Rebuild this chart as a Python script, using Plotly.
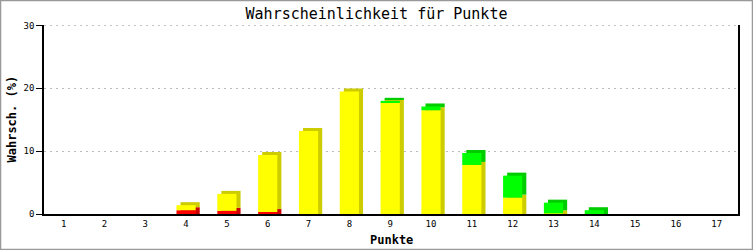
import plotly.graph_objects as go

categories = list(range(1, 18))
red = [0, 0, 0, 0.6, 0.5, 0.3, 0, 0, 0, 0, 0, 0, 0, 0, 0, 0, 0]
yellow = [0, 0, 0, 0.8, 2.7, 9.1, 13.2, 19.5, 17.8, 16.5, 7.8, 2.6, 0.1, 0, 0, 0, 0]
green = [0, 0, 0, 0, 0, 0, 0, 0, 0.2, 0.6, 1.9, 3.5, 1.7, 0.6, 0, 0, 0]
tick_labels = [str(c) for c in categories]
y_ticks = [0, 10, 20, 30]

series = [
    ("red", red, "#ff0000", "#cc0000"),
    ("yellow", yellow, "#ffff00", "#cccc00"),
    ("green", green, "#00ff00", "#00cc00"),
]

W, H = 753, 250
L, R, T, B = 44, 15, 25, 36
PW, PH = W - L - R, H - T - B
bar_w = 0.47
dx = 0.10   # depth offset in category units (~4px)
dy = 0.48   # depth offset in value units (~3px)
grid_dash = "2px,4px"

fig = go.Figure()

bases = [0.0] * len(categories)
segs = []
for name, vals, col, dark in series:
    segs.append((name, vals, list(bases), col, dark))
    bases = [b + v for b, v in zip(bases, vals)]

# shadow (3D depth) traces
for name, vals, base, col, dark in segs:
    sh_base = [(b + dy if b > 0 else 0) for b in base]
    sh_val = [(v + (dy if b == 0 else 0)) if v > 0 else 0 for b, v in zip(base, vals)]
    fig.add_trace(go.Bar(
        x=categories, y=sh_val, base=sh_base,
        width=bar_w, offset=-bar_w / 2 + dx,
        marker=dict(color=dark, line=dict(width=0)),
        showlegend=False, hoverinfo="skip"))
# front faces
for name, vals, base, col, dark in segs:
    fig.add_trace(go.Bar(
        x=categories, y=vals, base=base,
        width=bar_w, offset=-bar_w / 2,
        marker=dict(color=col, line=dict(width=0)),
        showlegend=False, name=name))

mono = "DejaVu Sans Mono"
fig.update_layout(
    width=W, height=H,
    margin=dict(l=L, r=R, t=T, b=B),
    paper_bgcolor="white", plot_bgcolor="white",
    barmode="overlay",
    title=dict(text="Wahrscheinlichkeit für Punkte", x=0.5, xref="container",
               xanchor="center", y=1 - 14 / H, yref="container", yanchor="middle",
               font=dict(family=mono, size=15, color="black")),
    xaxis=dict(range=[0.52, 17.52], tickmode="array", tickvals=categories,
               ticktext=tick_labels, showgrid=False, zeroline=False,
               showline=True, linecolor="black", linewidth=2, ticks="",
               automargin=False,
               tickfont=dict(family=mono, size=9, color="black")),
    yaxis=dict(range=[0, 30.06], tickvals=y_ticks, showgrid=True,
               gridcolor="#bbbbbb", griddash=grid_dash, gridwidth=1, zeroline=False,
               showline=True, linecolor="black", linewidth=1.5, mirror=True,
               ticks="outside", ticklen=6, tickcolor="black", tickwidth=1,
               automargin=False,
               tickfont=dict(family=mono, size=9, color="black")),
)

# axis titles
fig.add_annotation(text="<b>Punkte</b>", xref="paper", yref="paper",
                   x=0.5, y=-(240 - T - PH) / PH, xanchor="center", yanchor="middle",
                   showarrow=False, font=dict(family=mono, size=12, color="black"))
fig.add_annotation(text="<b>Wahrsch. (%)</b>", xref="paper", yref="paper",
                   x=(11 - L) / PW, y=0.5, xanchor="center", yanchor="middle",
                   textangle=-90, showarrow=False,
                   font=dict(family=mono, size=12, color="black"))

# top gridline (plotly hides the one at the edge)
fig.add_shape(type="line", xref="paper", yref="y", x0=0, x1=1,
              y0=y_ticks[-1], y1=y_ticks[-1],
              line=dict(color="#bbbbbb", width=1, dash=grid_dash), layer="below")

# outer gray frame
fig.add_shape(type="rect", xref="paper", yref="paper",
              x0=(0.5 - L) / PW, x1=(W - 0.5 - L) / PW,
              y0=-(B - 0.5) / PH, y1=1 + (T - 0.5) / PH,
              line=dict(color="#999999", width=1.5), layer="below")

fig.write_html("out.html")
